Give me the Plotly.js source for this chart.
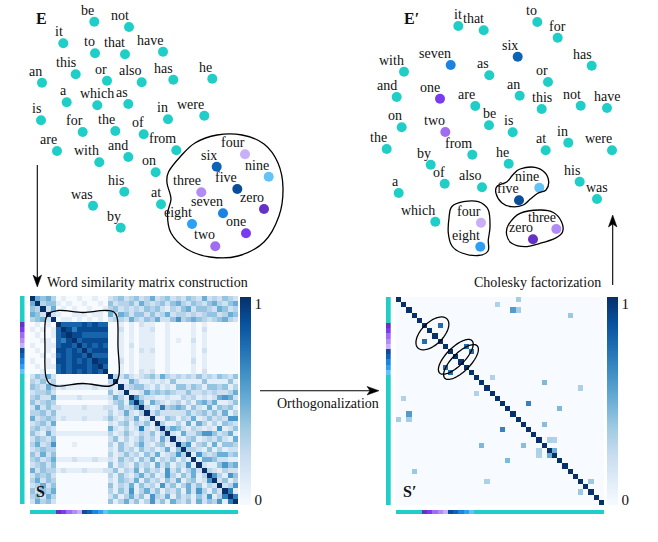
<!DOCTYPE html>
<html><head><meta charset="utf-8">
<script src="https://cdn.plot.ly/plotly-3.0.1.min.js"></script>
<style>html,body{margin:0;padding:0;background:#fff}#chart{width:658px;height:542px}</style>
</head><body><div id="chart"></div>
<script>
const W = 658, H = 542;
const FONT = 'Liberation Serif, Times New Roman, serif';

// ---------- embedding E (positions) ----------
const wordsE = ['be','not','it','to','that','have','an','this','or','also','has','he','a','which','as','is','in','were','for','the','of','from','are','with','and','on','his','was','at','by','four','six','nine','five','three','zero','seven','eight','one','two'];
const xE = [94.3,129,63.3,95,125,163,42,75.7,107,141.7,173.3,212.3,66.7,97.3,128.3,41,168,204.3,82.7,115.3,143.7,176.3,57,99.3,128.3,155.7,124.3,93,161,120.7,245,216.7,268.7,237.3,201.3,264,223,192,246,215.3];
const yE = [21.7,27,43.3,53.3,54.3,51.7,82.7,74.3,80.7,82.3,79.7,78.7,102.3,105.3,104,120.3,119.3,115.7,132,131,134.3,150.3,151,162.3,157,172.3,191.7,205.7,204.3,227.7,154.3,166.7,176.7,189,192.3,209,213.3,224,233.3,246.3];

// ---------- embedding E' ----------
const wordsE2 = ['it','that','to','for','six','has','seven','with','as','or','and','one','an','are','this','not','have','on','two','be','is','the','from','at','in','were','by','he','of','also','nine','five','his','was','a','which','four','eight','three','zero'];
const xE2 = [458.3,483.7,537.3,557.7,517.7,591.7,450.7,404,489.3,548,396.7,440,519.7,475.3,541.7,580.7,607,401.7,445.3,489,512.7,386.7,472.3,545.7,568.3,612,430.7,508.7,444.7,482,539.3,519,579.7,597,398.7,435.3,481,480.3,556.3,533];
const yE2 = [26,30.3,22,37.7,56.7,65.7,65,71.7,75.3,82,97,98.7,95.7,106,109,105.7,108,127.3,132,125.3,132.3,149,154.7,150.3,142.7,150.3,164.7,163.7,183.7,187.3,187.7,200.3,181.7,199,193,221.7,222.7,246.7,229,239.3];

const digitWords = ['zero','one','two','three','four','five','six','seven','eight','nine'];
const digitColors = ['#6632c6','#7a3bf0','#a06cf1','#b28cf4','#c9aff7','#0a4d98','#0c63b8','#1b84e0','#2ba0f5','#62c3f8'];
const teal = 'rgb(32,206,200)';

// ---------- matrix order ----------
const groupA = ['the','of','and','to','a'];
const groupB = ['in','is','was','for','on','that','as','with','by','he','it','at','from','his','an','were','are','which','this','be','or','has','have','not','also'];
const matrixOrder = groupA.concat(digitWords, groupB);

// similarity matrix S: lower triangle rows, digit d -> d/10, X -> 1
const simRows = [
'X','5X','43X','542X','3452X',
'01010X','101018X','0100189X','00110879X','100118998X','0101099898X','00101898998X','100109989898X','0101189899989X','00100898989898X',
'243520000000000X',
'3242300000000003X',
'43253121111121121X',
'2334200000000004122X',
'34225111121111125312X',
'423430000000000134162X',
'2524221111211122142354X',
'33424111111111131252132X',
'523431211121112421325121X',
'2342500000000002134132413X',
'34232000000000052131272132X',
'421521111111111312421324134X',
'2432400000000002413124231521X',
'35236000100000031421352134122X',
'234330000000000214231423125145X',
'4252400000000003124231425123632X',
'34235111211121121423142513241315X',
'234240000000000413214231524132612X',
'5243312111211122413251423162413522X',
'24342000000000031421352412631425133X',
'352430000000000214325142314251341264X',
'2352400000000004132514231624135241323X',
'42435000000000031426135241324152631426X',
'342530000000000241352416325142314261376X',
'2534200000000004135241362415324152436177X'
];

// orthogonalized S': off-diagonal pairs (upper triangle, mirrored)
const orthI = [0,1,2,2,3,5,9,10,15,16,17,20,21,24,27,27,29,35];
const orthJ = [23,19,22,23,33,8,13,14,18,28,35,25,31,28,29,30,30,37];
const orthV = [0.35,0.32,0.58,0.35,0.38,0.76,0.76,0.76,0.32,0.45,0.33,0.68,0.45,0.43,0.33,0.32,0.5,0.38];
const orthDiag = 1;

// ---------- build matrices ----------
const N = matrixOrder.length;
const S = Array.from({length:N}, () => new Array(N).fill(0));
simRows.forEach((row, i) => {
  for (let j = 0; j <= i && j < row.length; j++) {
    const ch = row[j];
    const v = ch === 'X' ? 1 : (+ch) / 10;
    S[i][j] = v; S[j][i] = v;
  }
  S[i][i] = 1;
});
const S2 = Array.from({length:N}, (_, i) => { const r = new Array(N).fill(0); r[i] = orthDiag; return r; });
orthI.forEach((i, k) => { S2[i][orthJ[k]] = orthV[k]; S2[orthJ[k]][i] = orthV[k]; });

const blues = [[0,'#f7fbff'],[0.125,'#deebf7'],[0.25,'#c6dbef'],[0.375,'#9ecae1'],[0.5,'#6baed6'],[0.625,'#4292c6'],[0.75,'#2171b5'],[0.875,'#08519c'],[1,'#08306b']];

function colorOf(w){ const k = digitWords.indexOf(w); return k < 0 ? teal : digitColors[k]; }
const codes = matrixOrder.map(w => digitWords.indexOf(w) + 1);
const stripColors = [teal].concat(digitColors);
const stripScale = [];
stripColors.forEach((c, k) => { stripScale.push([k/11 + (k ? 1e-6 : 0), c]); stripScale.push([(k+1)/11, c]); });

// ---------- traces ----------
const traces = [];
traces.push({type:'scatter', mode:'markers', x:xE, y:yE, xaxis:'x', yaxis:'y', hoverinfo:'skip',
  marker:{size:10, color:wordsE.map(colorOf), line:{width:0}}});
traces.push({type:'scatter', mode:'markers', x:xE2, y:yE2, xaxis:'x', yaxis:'y', hoverinfo:'skip',
  marker:{size:10, color:wordsE2.map(colorOf), line:{width:0}}});

function cbar(x0){
  return {x:x0/W, xanchor:'left', xref:'paper', y:1-505/H, yanchor:'bottom', yref:'paper',
    len:208/H, lenmode:'fraction', thickness:11, thicknessmode:'pixels', outlinewidth:0, xpad:0, ypad:0,
    tickvals:[0.025,0.968], ticktext:['0','1'], ticks:'', tickfont:{family:FONT, size:15, color:'#111'}};
}
traces.push({type:'heatmap', z:S, xaxis:'x2', yaxis:'y2', colorscale:blues, zmin:0, zmax:1, hoverinfo:'skip', colorbar:cbar(240)});
traces.push({type:'heatmap', z:S2, xaxis:'x3', yaxis:'y3', colorscale:blues, zmin:0, zmax:1, hoverinfo:'skip', colorbar:cbar(607)});
const vz = codes.map(c => [c]);
[['x4','y4',vz],['x5','y5',[codes]],['x6','y6',vz],['x7','y7',[codes]]].forEach(([xa,ya,z]) => {
  traces.push({type:'heatmap', z:z, xaxis:xa, yaxis:ya, colorscale:stripScale, zmin:-0.5, zmax:10.5, showscale:false, hoverinfo:'skip'});
});

// ---------- layout ----------
function ax(dom, rng, anchor){ return {domain:dom, range:rng, visible:false, fixedrange:true, anchor:anchor, showgrid:false, zeroline:false}; }
const dS = [30/W, 238/W], dS2 = [396/W, 604/W];
const vS = [1-504/H, 1-296/H], vS2 = [1-505/H, 1-297/H], vB = [1-514/H, 1-510/H];
const layout = {
  width:W, height:H, margin:{l:0,r:0,t:0,b:0}, showlegend:false,
  paper_bgcolor:'#fff', plot_bgcolor:'rgba(0,0,0,0)', font:{family:FONT, color:'#111'},
  xaxis: ax([0,1],[0,W],'y'), yaxis: ax([0,1],[H,0],'x'),
  xaxis2: ax(dS,[-0.5,N-0.5],'y2'), yaxis2: ax(vS,[N-0.5,-0.5],'x2'),
  xaxis3: ax(dS2,[-0.5,N-0.5],'y3'), yaxis3: ax(vS2,[N-0.5,-0.5],'x3'),
  xaxis4: ax([20/W,24.5/W],[-0.5,0.5],'y4'), yaxis4: ax(vS,[N-0.5,-0.5],'x4'),
  xaxis5: ax(dS,[-0.5,N-0.5],'y5'), yaxis5: ax(vB,[-0.5,0.5],'x5'),
  xaxis6: ax([386/W,390.7/W],[-0.5,0.5],'y6'), yaxis6: ax(vS2,[N-0.5,-0.5],'x6'),
  xaxis7: ax(dS2,[-0.5,N-0.5],'y7'), yaxis7: ax(vB,[-0.5,0.5],'x7'),
  annotations: [], shapes: []
};

// word labels
const centerE = new Set(['which']);
const centerE2 = new Set(['it','for','this','have','be','was']);
function addLabels(words, xs, ys, centered){
  words.forEach((w, i) => {
    const c = centered.has(w);
    layout.annotations.push({x:xs[i], y:ys[i], xref:'x', yref:'y', text:w, showarrow:false,
      xanchor: c ? 'center' : 'right', yanchor:'bottom', xshift: c ? 0 : 2, yshift:2,
      font:{family:FONT, size:14, color:'#111'}});
  });
}
addLabels(wordsE, xE, yE, centerE);
addLabels(wordsE2, xE2, yE2, centerE2);

function txt(x, y, t, opts){ layout.annotations.push(Object.assign({x:x, y:y, xref:'x', yref:'y', text:t, showarrow:false, xanchor:'center', yanchor:'middle', font:{family:FONT, size:14, color:'#111'}}, opts||{})); }
txt(41.5, 18, '<b>E</b>', {font:{family:FONT, size:16, color:'#111'}});
txt(411, 18, '<b>E′</b>', {font:{family:FONT, size:16, color:'#111'}});
txt(40, 491, '<b>S</b>', {font:{family:FONT, size:16, color:'#111'}});
txt(409, 491, '<b>S′</b>', {font:{family:FONT, size:16, color:'#111'}});
txt(147.8, 282, 'Word similarity matrix construction');
txt(537, 282, 'Cholesky factorization');
txt(327.5, 403, 'Orthogonalization');

// arrows: shaft + notched filled head
function arrow(x0, y0, x1, y1){
  const L = Math.hypot(x1-x0, y1-y0), ux = (x1-x0)/L, uy = (y1-y0)/L, px = -uy, py = ux;
  const hl = 12, hw = 4.3, notch = 9;
  layout.shapes.push({type:'line', xref:'x', yref:'y', layer:'above', x0:x0, y0:y0, x1:x1-ux*notch, y1:y1-uy*notch, line:{color:'#000', width:1.1}});
  const p = [[x1, y1], [x1-ux*hl+px*hw, y1-uy*hl+py*hw], [x1-ux*notch, y1-uy*notch], [x1-ux*hl-px*hw, y1-uy*hl-py*hw]];
  layout.shapes.push({type:'path', xref:'x', yref:'y', layer:'above', path:'M' + p.map(q => q[0].toFixed(2)+','+q[1].toFixed(2)).join(' L') + ' Z',
    fillcolor:'#000', line:{color:'#000', width:0.5}});
}
arrow(37.3, 165, 37.3, 287);
arrow(612.7, 285, 612.7, 215);
arrow(260, 390.7, 379, 390.7);

// smooth closed outlines
function smooth(pts){
  const n = pts.length; let d = 'M' + pts[0][0] + ',' + pts[0][1];
  for (let i = 0; i < n; i++){
    const p0 = pts[(i-1+n)%n], p1 = pts[i], p2 = pts[(i+1)%n], p3 = pts[(i+2)%n];
    const c1 = [p1[0] + (p2[0]-p0[0])/6, p1[1] + (p2[1]-p0[1])/6];
    const c2 = [p2[0] - (p3[0]-p1[0])/6, p2[1] - (p3[1]-p1[1])/6];
    d += ' C' + c1.join(',') + ' ' + c2.join(',') + ' ' + p2.join(',');
  }
  return d + ' Z';
}
const outline = {type:'path', xref:'x', yref:'y', layer:'above', line:{color:'#000', width:1.3}, fillcolor:'rgba(0,0,0,0)'};
[
 [[180,157],[168.5,172],[167,183],[171,199],[167.5,214],[171,233],[186.7,249],[210,257],[238,256],[264,242],[279,216],[283,188],[278,163],[264,144],[242,135],[217,135],[195,143]],
 [[512.7,175],[520,169],[535,167.3],[545,172.7],[548.7,181.7],[546,190],[537.7,193.3],[530,199.3],[523.3,205],[511.7,206.7],[501.7,202.7],[496,193.3],[497.3,186],[506.7,182]],
 [[451.7,206.7],[463.3,201.7],[478.3,201.7],[488.3,210],[490,226.7],[488.3,240],[488,251],[478,255.5],[462,253],[452,246],[448.3,233],[449,218]],
 [[508.3,225],[520,213.3],[540,210],[553.3,212.5],[561.5,221.7],[562.5,232],[555,238.3],[540,243.3],[525,246.7],[511.7,243.3],[506.7,235]],
 [[58,310.5],[83,312.5],[107,310.5],[117,317],[118,347],[119,375],[110,386],[83,383.5],[56,386],[46,377],[45,347],[46,318]]
].forEach(p => layout.shapes.push(Object.assign({path:smooth(p)}, outline)));

// ellipses on S' (cell coordinates)
function ellipse(cx, cy, a, b){
  const u = [Math.SQRT1_2, -Math.SQRT1_2], v = [Math.SQRT1_2, Math.SQRT1_2];
  let d = '';
  for (let k = 0; k <= 72; k++){
    const t = 2*Math.PI*k/72;
    const x = cx + a*Math.cos(t)*u[0] + b*Math.sin(t)*v[0];
    const y = cy + a*Math.cos(t)*u[1] + b*Math.sin(t)*v[1];
    d += (k ? ' L' : 'M') + x.toFixed(3) + ',' + y.toFixed(3);
  }
  return d + ' Z';
}
[[6.5,6.5,3.95,2.1],[11,11,4.4,1.75],[12,12,4.4,1.75]].forEach(e => layout.shapes.push({type:'path', xref:'x3', yref:'y3', layer:'above',
  path:ellipse(e[0],e[1],e[2],e[3]), line:{color:'#000', width:1.3}, fillcolor:'rgba(0,0,0,0)'}));

Plotly.newPlot('chart', traces, layout, {displayModeBar:false, staticPlot:true});
</script></body></html>
